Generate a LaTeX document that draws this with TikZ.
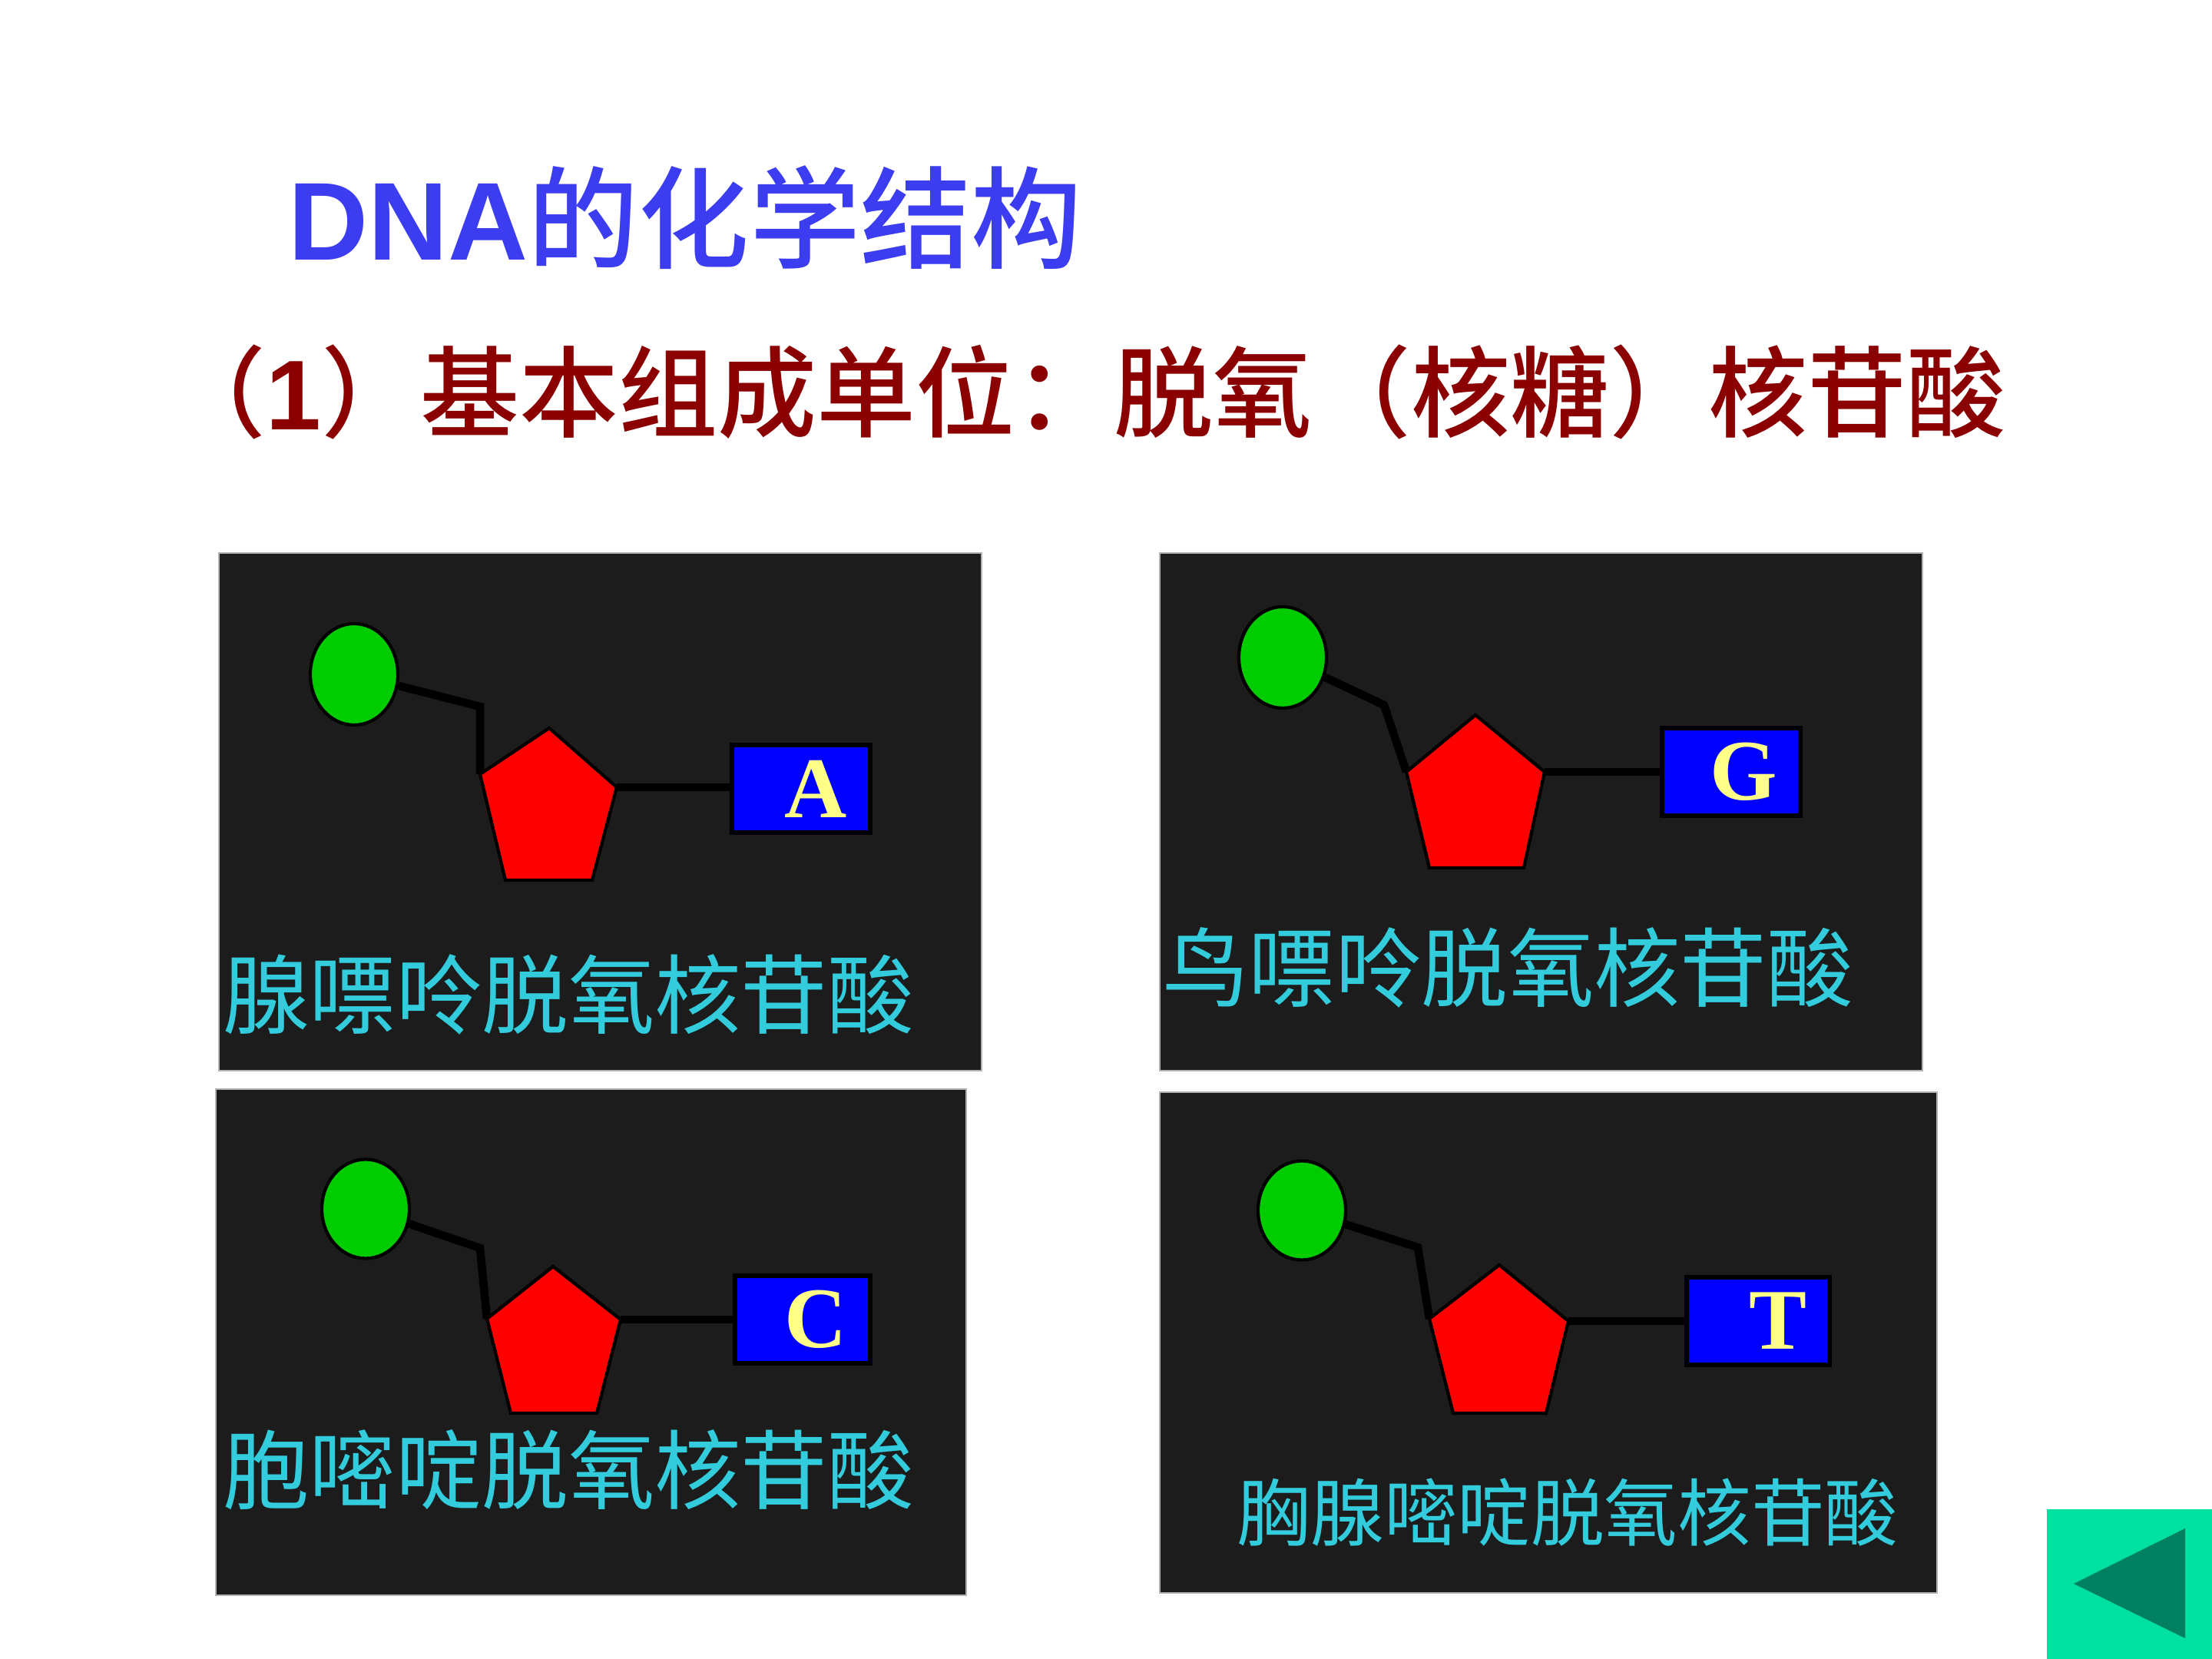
\documentclass[tikz,border=0pt]{standalone}
\usepackage{fontspec}
\setmainfont{Liberation Serif}
\newfontfamily\cjkfont{Noto Sans CJK SC}
\newfontfamily\cjkmedium{Noto Sans CJK SC Medium}
\newfontfamily\arialfont{Liberation Sans}
\usetikzlibrary{shapes.geometric,positioning}
\definecolor{panelgray}{RGB}{28,28,28}
\definecolor{phosgreen}{RGB}{0,204,0}
\definecolor{baseyellow}{RGB}{255,255,136}
\definecolor{namecyan}{RGB}{51,204,221}
\definecolor{titleblue}{RGB}{60,60,240}
\definecolor{subred}{RGB}{139,0,0}
\definecolor{buttongreen}{RGB}{0,224,160}
\definecolor{buttondark}{RGB}{0,128,96}
\tikzset
{
	panel/.style = {draw=gray!60, fill=panelgray, line width=0.8pt},
	phosphate/.style = {ellipse, draw=black, fill=phosgreen, line width=1.2pt, minimum width=1.14cm, minimum height=1.32cm, inner sep=0pt},
	sugar/.style = {draw=black, fill=red, line width=1.2pt},
	basebox/.style = {rectangle, draw=black, fill=blue, line width=1.5pt, minimum height=1.14cm, inner xsep=0.3cm, inner ysep=0pt, text width=1.2cm, align=right, font=\fontsize{32}{32}\selectfont\bfseries, text=baseyellow},
	bond/.style = {line width=3pt, black},
	nuclabel/.style = {font=\cjkfont\fontsize{32}{36}\selectfont, text=namecyan, inner sep=0pt}
}

\begin{document}
\begin{tikzpicture}
\fill[white] (0,0) rectangle (28.8,21.6);
\useasboundingbox (0,0) rectangle (28.8,21.6);

% headings
\node[anchor=base west, text=titleblue, inner sep=0pt] (title) at (3.75,18.21) {\fontsize{41}{41}\selectfont\arialfont\bfseries DNA\cjkmedium\mdseries 的化学结构};
\node[anchor=base west, text=subred, inner sep=0pt] (unit) at (2.17,16.0) {\fontsize{36.7}{37}\selectfont\cjkmedium （\arialfont\bfseries 1\cjkmedium\mdseries ）基本组成单位：脱氧（核糖）核苷酸};

% adenine
\draw[panel] (2.85,7.66) rectangle (12.78,14.40);
\node[phosphate] (pA) at (4.61,12.82) {};
\node[basebox] (bA) at (10.43,11.33) {A};
\coordinate (kA) at (6.25,12.40);
\coordinate (sAt) at (7.15,12.12);
\coordinate (sAr) at (8.03,11.35);
\coordinate (sAbr) at (7.71,10.14);
\coordinate (sAbl) at (6.58,10.14);
\coordinate (sAl) at (6.25,11.52);
\draw[bond] (pA) -- (kA) -- (sAl);
\draw[bond] (sAr) -- (sAr -| bA.west);
\draw[sugar] (sAt) -- (sAr) -- (sAbr) -- (sAbl) -- (sAl) -- cycle;
\node[nuclabel] (nA) at (7.40,8.65) {腺嘌呤脱氧核苷酸};

% guanine
\draw[panel] (15.10,7.66) rectangle (25.03,14.40);
\node[phosphate] (pG) at (16.70,13.04) {};
\node[basebox] (bG) at (22.54,11.55) {G};
\coordinate (kG) at (18.02,12.42);
\coordinate (sGt) at (19.21,12.29);
\coordinate (sGr) at (20.11,11.55);
\coordinate (sGbr) at (19.84,10.30);
\coordinate (sGbl) at (18.61,10.30);
\coordinate (sGl) at (18.31,11.55);
\draw[bond] (pG) -- (kG) -- (sGl);
\draw[bond] (sGr) -- (sGr -| bG.west);
\draw[sugar] (sGt) -- (sGr) -- (sGbr) -- (sGbl) -- (sGl) -- cycle;
\node[nuclabel] (nG) at (19.63,9.00) {鸟嘌呤脱氧核苷酸};

% cytosine
\draw[panel] (2.81,0.83) rectangle (12.58,7.42);
\node[phosphate, minimum height=1.29cm] (pC) at (4.76,5.86) {};
\node[basebox, minimum width=1.76cm, text width=1.16cm] (bC) at (10.45,4.42) {C};
\coordinate (kC) at (6.25,5.35);
\coordinate (sCt) at (7.20,5.11);
\coordinate (sCr) at (8.08,4.42);
\coordinate (sCbr) at (7.77,3.20);
\coordinate (sCbl) at (6.65,3.20);
\coordinate (sCl) at (6.34,4.43);
\draw[bond] (pC) -- (kC) -- (sCl);
\draw[bond] (sCr) -- (sCr -| bC.west);
\draw[sugar] (sCt) -- (sCr) -- (sCbr) -- (sCbl) -- (sCl) -- cycle;
\node[nuclabel] (nC) at (7.40,2.46) {胞嘧啶脱氧核苷酸};

% thymine
\draw[panel] (15.10,0.86) rectangle (25.22,7.38);
\node[phosphate, minimum height=1.29cm] (pT) at (16.95,5.84) {};
\node[basebox, minimum width=1.86cm, text width=1.26cm] (bT) at (22.89,4.40) {T};
\coordinate (kT) at (18.46,5.36);
\coordinate (sTt) at (19.52,5.13);
\coordinate (sTr) at (20.42,4.40);
\coordinate (sTbr) at (20.13,3.20);
\coordinate (sTbl) at (18.92,3.20);
\coordinate (sTl) at (18.61,4.43);
\draw[bond] (pT) -- (kT) -- (sTl);
\draw[bond] (sTr) -- (sTr -| bT.west);
\draw[sugar] (sTt) -- (sTr) -- (sTbr) -- (sTbl) -- (sTl) -- cycle;
\node[nuclabel, font=\cjkfont\fontsize{27.2}{30}\selectfont] (nT) at (20.41,1.91) {胸腺嘧啶脱氧核苷酸};

% back button
\fill[buttongreen] (26.65,0) rectangle (28.8,1.95);
\fill[buttondark] (27.00,0.98) -- (28.45,1.70) -- (28.45,0.27) -- cycle;
\end{tikzpicture}
\end{document}
